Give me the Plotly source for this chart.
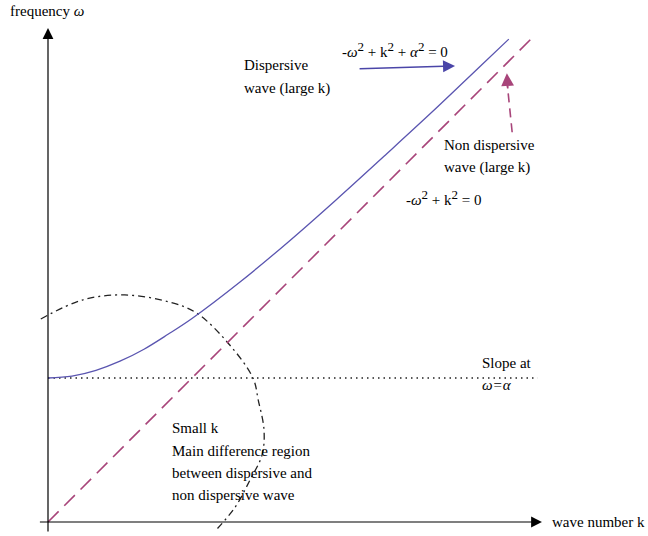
import plotly.graph_objects as go

# ---- data (units: alpha = 3) ----
k_disp = [0, 0.5, 1, 1.5, 2, 2.5, 3, 4, 5, 6, 7, 8, 9, 9.6]
w_disp = [3.0, 3.04, 3.16, 3.35, 3.6, 3.91, 4.24, 5.0, 5.83, 6.71, 7.62, 8.54, 9.49, 10.06]

k_nondisp = [0, 10.05]
w_nondisp = [0, 10.05]

k_slope = [0, 10.2]
w_slope = [3.0, 3.0]

k_region = [-0.15, 0.73, 1.6, 2.54, 3.1, 3.75, 4.27, 4.38, 4.5, 4.46, 4.21, 3.9, 3.48]
w_region = [4.23, 4.63, 4.73, 4.58, 4.35, 3.73, 3.0, 2.54, 1.92, 1.4, 0.88, 0.31, -0.19]

FONT = "Liberation Serif"
BLUE = "#5a55b0"
MAGENTA = "#a8457a"

W, H = 648, 536

fig = go.Figure()

fig.add_trace(go.Scatter(x=k_region, y=w_region, mode="lines", line_shape="spline",
                         line=dict(color="#222222", width=1.3, dash="7px,4px,2px,4px")))
fig.add_trace(go.Scatter(x=k_slope, y=w_slope, mode="lines",
                         line=dict(color="#222222", width=1.3, dash="1.5px,4px")))
fig.add_trace(go.Scatter(x=k_nondisp, y=w_nondisp, mode="lines",
                         line=dict(color=MAGENTA, width=1.6, dash="15px,8px")))
fig.add_trace(go.Scatter(x=k_disp, y=w_disp, mode="lines", line_shape="spline",
                         line=dict(color=BLUE, width=1.3)))
# dashed shaft of the "non dispersive" pointer
fig.add_trace(go.Scatter(x=[9.67, 9.57], y=[8.12, 9.1], mode="lines",
                         line=dict(color=MAGENTA, width=1.6, dash="9px,6px")))


def arrow(x0, y0, x1, y1, color="black", width=1.2, size=1.8):
    fig.add_annotation(x=x1, y=y1, ax=x0, ay=y0, xref="x", yref="y",
                       axref="x", ayref="y", text="", showarrow=True,
                       arrowhead=2, arrowsize=size, arrowwidth=width,
                       arrowcolor=color)


# axes
arrow(-0.2, 0, 10.29, 0)
arrow(0, -0.23, 0, 10.29)
# pointers
arrow(6.46, 9.44, 8.48, 9.5, color="#4a45a8", width=1.5, size=1.6)
arrow(9.58, 9.0, 9.56, 9.35, color=MAGENTA, width=1.6, size=1.6)


def label(text, x, y, size=15):
    # x, y in window pixels from the top-left corner
    fig.add_annotation(x=x / W, y=1 - y / H, xref="paper", yref="paper",
                       text=text, showarrow=False, xanchor="left",
                       yanchor="middle", font=dict(family=FONT, size=size,
                                                   color="black"))


SQ = "<sup><span style='font-size:13px'>2</span></sup>"

label("frequency <i>ω</i>", 8, 11)
label("Dispersive", 242, 65)
label("wave (large k)", 242, 88)
label(f"-<i>ω</i>{SQ} + k{SQ} + <i>α</i>{SQ} = 0", 340, 50)
label("Non dispersive", 442, 145)
label("wave (large k)", 442, 167)
label(f"-<i>ω</i>{SQ} + k{SQ} = 0", 404, 197)
label("Slope at", 480, 363)
label("<i>ω=α</i>", 480, 385)
label("Small k", 170, 428)
label("Main difference region", 170, 451)
label("between dispersive and", 170, 473)
label("non dispersive wave", 170, 495)
label("wave number k", 550, 522)

fig.update_layout(
    width=W, height=H,
    margin=dict(l=0, r=0, t=0, b=0),
    paper_bgcolor="white", plot_bgcolor="white",
    showlegend=False,
    xaxis=dict(visible=False, range=[-48 / 48, (W - 48) / 48]),
    yaxis=dict(visible=False, range=[(522 - H) / 48, 522 / 48]),
)

# drop the browser's default 8px body margin so the figure fills the window
fig.write_html("out.html", config={"displayModeBar": False},
               post_script="document.body.style.margin = '0';")
